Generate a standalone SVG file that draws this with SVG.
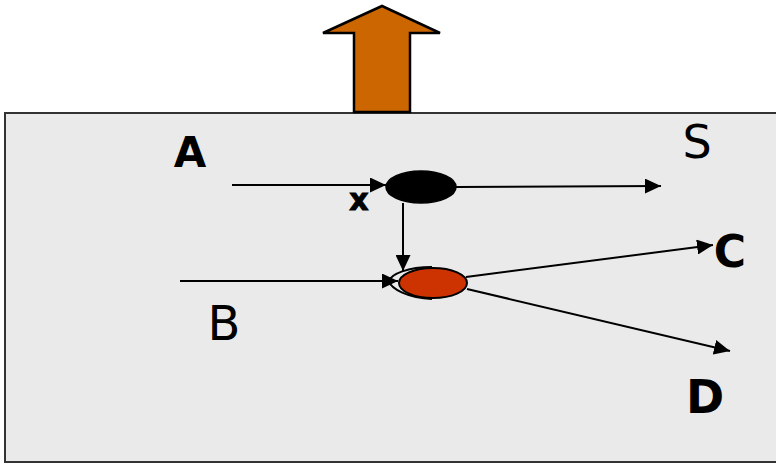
<svg xmlns="http://www.w3.org/2000/svg" width="776" height="464" viewBox="0 0 776 464">
<style>
.lbl{font-family:"DejaVu Sans","Liberation Sans",sans-serif;fill:#000;text-anchor:middle}
.b{font-weight:bold}
.ln{stroke:#000;stroke-width:2;fill:none}
</style>
<defs>
<marker id="ah" viewBox="0 0 10 10" refX="10" refY="5" markerWidth="16" markerHeight="15" markerUnits="userSpaceOnUse" orient="auto" preserveAspectRatio="none">
<path d="M0,0 L10,5 L0,10 Z" fill="#000"/>
</marker>
</defs>
<rect x="5" y="113" width="790" height="349" fill="#eaeaea" stroke="#333" stroke-width="2"/>
<g id="bigArrow">
<path d="M354,112 L354,33 L323,33 L382,6 L440,33 L410,33 L410,112 Z" fill="#cc6600" stroke="#000" stroke-width="2.5" stroke-linejoin="miter"/>
</g>
<g id="connectors">
<line class="ln" x1="232" y1="185" x2="386" y2="185" marker-end="url(#ah)"/>
<line class="ln" x1="456" y1="187" x2="661" y2="186" marker-end="url(#ah)"/>
<line class="ln" x1="403" y1="203" x2="403" y2="271" marker-end="url(#ah)"/>
<line class="ln" x1="180" y1="281" x2="398" y2="281" marker-end="url(#ah)"/>
<path class="ln" d="M432,267 C408,267 391,274 389,281 C391,289 408,298 432,299" stroke-width="1.8"/>
<line class="ln" x1="466" y1="277" x2="713" y2="245" marker-end="url(#ah)"/>
<line class="ln" x1="467" y1="289" x2="730" y2="351" marker-end="url(#ah)"/>
</g>
<g id="nodeBlack">
<ellipse cx="421" cy="187" rx="35" ry="16" fill="#000" stroke="#000" stroke-width="1.5"/>
</g>
<g id="nodeRed">
<ellipse cx="433" cy="283" rx="34" ry="15" fill="#cc3300" stroke="#000" stroke-width="2"/>
</g>
<g id="labels">
<text class="lbl b" x="190" y="167" font-size="42">A</text>
<text class="lbl b" x="359" y="210" font-size="30" stroke="#000" stroke-width="1">x</text>
<text class="lbl" x="697" y="158" font-size="46">S</text>
<text class="lbl b" x="730" y="267" font-size="44">C</text>
<text class="lbl" x="224" y="340" font-size="48">B</text>
<text class="lbl b" x="705" y="413" font-size="46">D</text>
</g>
</svg>
